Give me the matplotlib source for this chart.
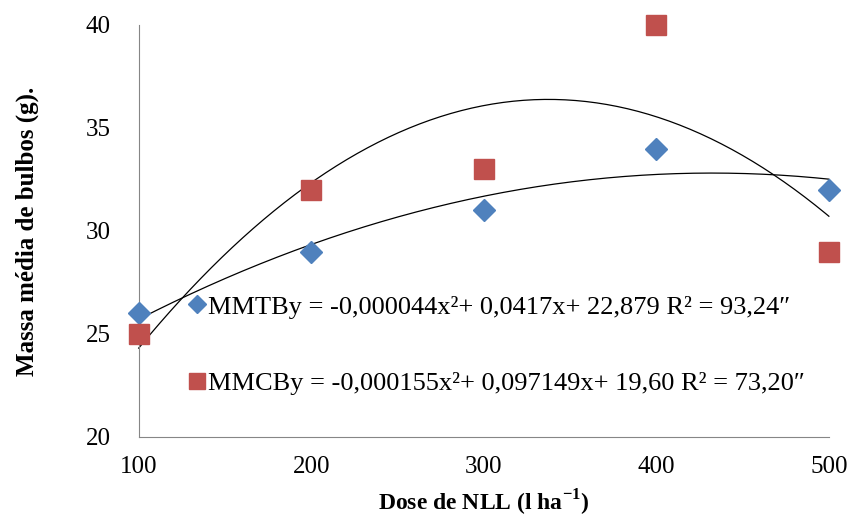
import matplotlib

matplotlib.use("Agg")
import matplotlib.pyplot as plt
import numpy as np

plt.rcParams["font.family"] = ["Liberation Serif", "DejaVu Serif"]
plt.rcParams["mathtext.fontset"] = "custom"
plt.rcParams["mathtext.rm"] = "Liberation Serif"
plt.rcParams["mathtext.bf"] = "Liberation Serif:bold"

dose = [100, 200, 300, 400, 500]
mmtb = [26, 29, 31, 34, 32]
mmcb = [25, 32, 33, 40, 29]

lab_mmtb = "MMTBy = -0,000044x²+ 0,0417x+ 22,879 R² = 93,24″"
lab_mmcb = "MMCBy = -0,000155x²+ 0,097149x+ 19,60 R² = 73,20″"

fig = plt.figure(figsize=(8.51, 5.19), dpi=100)
ax = fig.add_axes([0.163, 0.158, 0.811, 0.794])

# quadratic trendlines fitted to the data
xs = np.linspace(100, 500, 200)
for ys in (mmtb, mmcb):
    c = np.polyfit(dose, ys, 2)
    ax.plot(xs, np.polyval(c, xs), color="black", lw=0.9, zorder=1)

ax.plot(dose, mmtb, "D", color="#4F81BD", ms=11, ls="none", label=lab_mmtb, zorder=3)
ax.plot(dose, mmcb, "s", color="#C0504D", ms=15, ls="none", label=lab_mmcb, zorder=3)

ax.set_xlim(100, 500)
ax.set_ylim(20, 40)
ax.set_xticks([100, 200, 300, 400, 500])
ax.set_yticks([20, 25, 30, 35, 40])
ax.tick_params(length=0, labelsize=18)
ax.tick_params(axis="x", pad=14)
ax.tick_params(axis="y", pad=20)
for s in ("top", "right"):
    ax.spines[s].set_visible(False)
for s in ("left", "bottom"):
    ax.spines[s].set_color("#868686")
for ln in ax.lines:
    ln.set_clip_on(False)

ax.set_xlabel(r"Dose de NLL (l ha$^{\mathbf{-1}}$)", fontsize=17, fontweight="bold", labelpad=7)
ax.set_ylabel("Massa média de bulbos (g).", fontsize=18, fontweight="bold", labelpad=34)

leg = ax.legend(loc="upper left", bbox_to_anchor=(0.06, 0.37), frameon=False,
                fontsize=19, handlelength=0.5, handletextpad=0.15, labelspacing=2.0,
                markerscale=0.8, borderaxespad=0)

fig.savefig("out.png", dpi=100)
